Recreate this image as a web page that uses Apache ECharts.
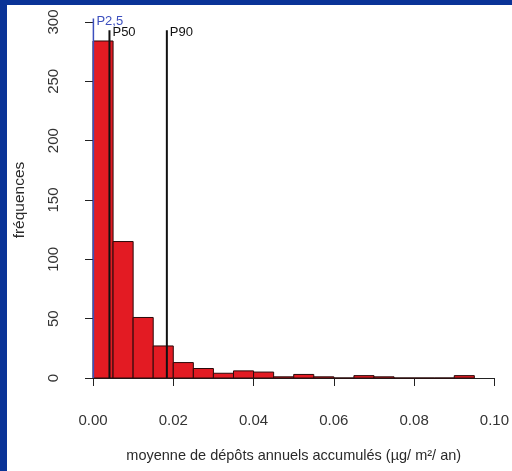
<!DOCTYPE html>
<html>
<head>
<meta charset="utf-8">
<script src="https://cdn.jsdelivr.net/npm/echarts@6/dist/echarts.min.js"></script>
<style>
html,body{margin:0;padding:0;background:#0a3397;}
#wrap{position:relative;width:512px;height:471px;overflow:hidden;background:#0a3397;}
#panel{position:absolute;left:7px;top:5px;right:0;bottom:0;background:#ffffff;}
#chart{position:absolute;left:0;top:0;width:512px;height:471px;}
</style>
</head>
<body>
<div id="wrap"><div id="panel"></div><div id="chart"></div></div>
<script>
// Histogram bins (width 0.005) and frequencies
const binStarts = [0.000,0.005,0.010,0.015,0.020,0.025,0.030,0.035,0.040,0.045,0.050,0.055,0.060,0.065,0.070,0.075,0.080,0.085,0.090];
const binEnds   = [0.005,0.010,0.015,0.020,0.025,0.030,0.035,0.040,0.045,0.050,0.055,0.060,0.065,0.070,0.075,0.080,0.085,0.090,0.095];
const frequencies = [284,115,51,27,13,8,4,6,5,1,3,1,0,2,1,0,0,0,2];

// Percentile markers
const percentileNames  = ['P2,5','P50','P90'];
const percentileValues = [0.0001,0.0041,0.0184];
const percentileTops   = [303,293,293];
const percentileColors = ['#3c4fbe','#111111','#111111'];
const percentileWidths = [1.5,2,2];

// Axis ticks
const xTicks = [0,0.02,0.04,0.06,0.08,0.10];
const yTicks = [0,50,100,150,200,250,300];

const xTitle = 'moyenne de dépôts annuels accumulés (µg/ m²/ an)';
const yTitle = 'fréquences';

const FONT = '"Liberation Sans", Arial, sans-serif';

const histData = binStarts.map((s,i)=>[s, binEnds[i], frequencies[i]]);
const pctData = percentileValues.map((v,i)=>[v, percentileTops[i], i]);

const chart = echarts.init(document.getElementById('chart'), null, {renderer:'canvas'});
chart.setOption({
  backgroundColor: 'transparent',
  animation: false,
  textStyle: {fontFamily: FONT},
  grid: {left: 93, right: 13, top: 22, bottom: 93, containLabel: false},
  xAxis: {
    type: 'value',
    min: xTicks[0], max: xTicks[xTicks.length-1], interval: 0.02,
    offset: 15,
    axisLine: {show: true, lineStyle: {color: '#222', width: 1}},
    axisTick: {show: true, inside: false, length: 8, lineStyle: {color: '#222', width: 1}},
    axisLabel: {margin: 20, fontSize: 15, color: '#333', fontFamily: FONT,
      formatter: v => v.toFixed(2)},
    splitLine: {show: false},
    name: xTitle, nameLocation: 'middle', nameGap: 55,
    nameTextStyle: {fontSize: 14.5, color: '#2a2a2a', fontFamily: FONT}
  },
  yAxis: {
    type: 'value',
    min: yTicks[0], max: yTicks[yTicks.length-1], interval: 50,
    offset: 17,
    axisLine: {show: true, lineStyle: {color: '#222', width: 1}},
    axisTick: {show: true, inside: false, length: 8, lineStyle: {color: '#222', width: 1}},
    axisLabel: {margin: 15, fontSize: 15, color: '#333', rotate: 90, fontFamily: FONT},
    splitLine: {show: false},
    name: yTitle, nameLocation: 'middle', nameGap: 48, nameRotate: 90,
    nameTextStyle: {fontSize: 15.5, color: '#2a2a2a', fontFamily: FONT}
  },
  series: [
    {
      type: 'custom',
      clip: false,
      data: histData,
      encode: {x: [0,1], y: 2},
      renderItem: function(params, api){
        const p0 = api.coord([api.value(0), api.value(2)]);
        const p1 = api.coord([api.value(1), 0]);
        return {
          type: 'rect',
          shape: {x: p0[0], y: p0[1], width: p1[0]-p0[0], height: p1[1]-p0[1]},
          style: {fill: '#e31b23', stroke: '#2a0a0a', lineWidth: 1}
        };
      }
    },
    {
      type: 'custom',
      clip: false,
      z: 5,
      data: pctData,
      encode: {x: 0, y: 1},
      renderItem: function(params, api){
        const i = api.value(2);
        const top = api.coord([api.value(0), api.value(1)]);
        const bot = api.coord([api.value(0), 0]);
        return {
          type: 'group',
          children: [
            {type: 'line', shape: {x1: top[0], y1: top[1], x2: bot[0], y2: bot[1]},
             style: {stroke: percentileColors[i], lineWidth: percentileWidths[i]}},
            {type: 'text', x: top[0] + 3, y: top[1] + 2.5,
             style: {text: percentileNames[i], fill: percentileColors[i], fontSize: 13,
                     fontFamily: FONT, align: 'left', verticalAlign: 'middle'}}
          ]
        };
      }
    }
  ]
});
</script>
</body>
</html>
